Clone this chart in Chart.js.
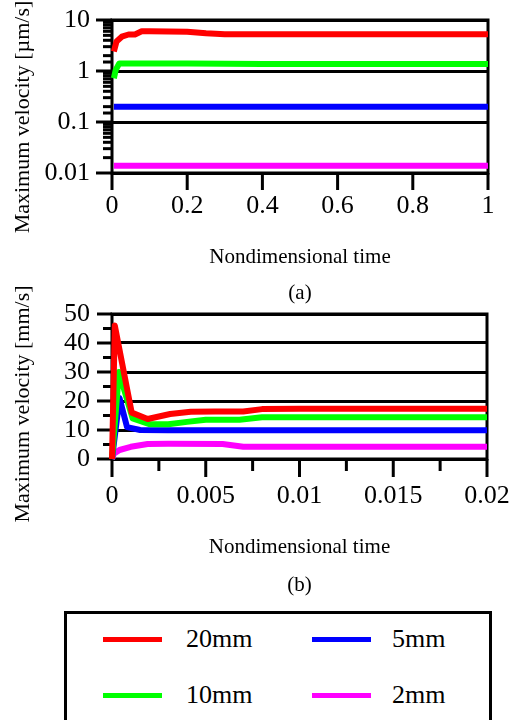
<!DOCTYPE html>
<html>
<head>
<meta charset="utf-8">
<script src="https://cdn.jsdelivr.net/npm/chart.js@4"></script>
<style>
  body { margin:0; background:#fff; width:518px; height:720px; overflow:hidden; position:relative; font-family:"Liberation Serif", serif; }
  canvas { position:absolute; left:0; }
  #c1 { top:0; }
  #c2 { top:280px; }
  #legendBox { position:absolute; left:64px; top:611px; width:422px; height:130px; border:3px solid #000; }
  .swatch { position:absolute; height:5px; width:59px; }
  .lbl { position:absolute; font-size:26px; line-height:30px; color:#000; white-space:nowrap; }
</style>
</head>
<body>
<canvas id="c1" width="518" height="315"></canvas>
<canvas id="c2" width="518" height="330"></canvas>
<div id="legendBox"></div>
<script>
// ---- series ----
const seriesNames  = ["20mm", "10mm", "5mm", "2mm"];
const seriesColors = ["#ff0000", "#00ff00", "#0000ff", "#ff00ff"];

// (a) velocities in um/s vs nondimensional time
const tRedA   = [0.005, 0.012, 0.026, 0.044, 0.061, 0.079, 0.1, 0.2, 0.25, 0.3, 0.4, 0.5, 0.6, 0.7, 0.8, 0.9, 1];
const redA    = [2.4, 3.8, 4.7, 5.2, 5.2, 6.0, 6.0, 5.9, 5.5, 5.25, 5.25, 5.25, 5.25, 5.25, 5.25, 5.25, 5.25];
const tGreenA = [0.005, 0.01, 0.019, 0.1, 0.2, 0.3, 0.4, 0.5, 0.6, 0.7, 0.8, 0.9, 1];
const greenA  = [0.72, 1.05, 1.4, 1.4, 1.4, 1.38, 1.37, 1.37, 1.37, 1.37, 1.37, 1.37, 1.37];
const tFlatA  = [0.005, 0.1, 0.2, 0.3, 0.4, 0.5, 0.6, 0.7, 0.8, 0.9, 1];
const blueA   = [0.2, 0.2, 0.2, 0.2, 0.2, 0.2, 0.2, 0.2, 0.2, 0.2, 0.2];
const magentaA = [0.0138, 0.0138, 0.0138, 0.0138, 0.0138, 0.0138, 0.0138, 0.0138, 0.0138, 0.0138, 0.0138];

// (b) velocities in mm/s, early times
const tRedB   = [0, 0.00015, 0.00105, 0.0019, 0.0031, 0.0042, 0.0055, 0.007, 0.008, 0.01, 0.015, 0.02];
const redB    = [0, 46, 16, 13.8, 15.5, 16.3, 16.4, 16.4, 17.2, 17.3, 17.3, 17.3];
const tGreenB = [0, 0.00037, 0.0011, 0.002, 0.003, 0.004, 0.005, 0.0068, 0.008, 0.01, 0.015, 0.02];
const greenB  = [0, 30, 14, 12, 12, 12.8, 13.5, 13.5, 14.4, 14.4, 14.4, 14.4];
const tBlueB  = [0, 0.0004, 0.0008, 0.0015, 0.003, 0.005, 0.01, 0.015, 0.02];
const blueB   = [0, 21, 11, 10, 9.9, 9.9, 9.9, 9.9, 9.9];
const tMagB   = [0, 0.0001, 0.0004, 0.001, 0.0019, 0.003, 0.0059, 0.007, 0.01, 0.015, 0.02];
const magB    = [0, 1.8, 3.1, 4.2, 5.2, 5.3, 5.2, 4.2, 4.2, 4.2, 4.2];

// ---- axes ----
const xTicksA = [0, 0.2, 0.4, 0.6, 0.8, 1];
const yTicksA = [0.01, 0.1, 1, 10];
const xStepB = 0.0025, xLabelStepB = 0.005;
const yStepB = 5, yLabelStepB = 10;

const xTitle = "Nondimensional time";
const yTitleA = "Maximum velocity [\u00b5m/s]";
const yTitleB = "Maximum velocity [mm/s]";

const FONT = '"Liberation Serif", "Times New Roman", serif';

function pts(xs, ys){ return xs.map((x,i)=>({x:x, y:ys[i]})); }
function onStep(v, step){ const r = v/step; return Math.abs(r - Math.round(r)) < 1e-6; }
function isDecade(v){ const l = Math.log10(v); return Math.abs(l - Math.round(l)) < 1e-6; }

function makeSet(data, idx){
  return { label: seriesNames[idx], data: data, borderColor: seriesColors[idx], borderWidth: 6,
           pointRadius: 0, fill: false, tension: 0, clip: false, borderJoinStyle: 'round' };
}

// invisible tick marks only push the labels away from the axis;
// the visible ones are drawn by the frame plugin with two lengths
function offsetGrid(len, extra){
  return Object.assign({ drawTicks: true, tickLength: len, tickColor: 'rgba(0,0,0,0)' }, extra);
}

// frame, custom tick marks and rotated y title
function makeFrame(cfg){
  return {
    id: 'frame',
    beforeDatasetsDraw(chart){
      const ctx = chart.ctx, a = chart.chartArea;
      const xs = chart.scales.x, ys = chart.scales.y;
      ctx.save();
      ctx.strokeStyle = '#000';
      ctx.lineWidth = 3;
      ctx.strokeRect(a.left, a.top, a.right - a.left, a.bottom - a.top);
      xs.ticks.forEach(t=>{
        const px = xs.getPixelForValue(t.value);
        const len = cfg.xMajor(t.value) ? cfg.xLen[0] : cfg.xLen[1];
        ctx.beginPath(); ctx.moveTo(px, a.bottom); ctx.lineTo(px, a.bottom + len); ctx.stroke();
      });
      ys.ticks.forEach(t=>{
        const py = ys.getPixelForValue(t.value);
        const len = cfg.yMajor(t.value) ? cfg.yLen[0] : cfg.yLen[1];
        ctx.beginPath(); ctx.moveTo(a.left - len, py); ctx.lineTo(a.left, py); ctx.stroke();
      });
      ctx.restore();
    },
    afterDraw(chart){
      const ctx = chart.ctx;
      ctx.save();
      ctx.translate(cfg.titleX, cfg.titleY);
      ctx.rotate(-Math.PI/2);
      ctx.font = '22px ' + FONT;
      ctx.fillStyle = '#000';
      ctx.textAlign = 'center';
      ctx.textBaseline = 'middle';
      ctx.fillText(cfg.title, 0, 0);
      ctx.restore();
    }
  };
}

Chart.defaults.font.family = FONT;
Chart.defaults.color = '#000';
const tickFont = { family: FONT, size: 26, lineHeight: 1 };

// ---- chart (a) ----
new Chart(document.getElementById('c1'), {
  type: 'line',
  data: { datasets: [
    makeSet(pts(tRedA, redA), 0),
    makeSet(pts(tGreenA, greenA), 1),
    makeSet(pts(tFlatA, blueA), 2),
    makeSet(pts(tFlatA, magentaA), 3)
  ]},
  options: {
    responsive: false, animation: false,
    layout: { padding: { top: 20, right: 30, left: 0, bottom: 0 } },
    plugins: { legend: { display: false }, tooltip: { enabled: false } },
    scales: {
      x: {
        type: 'linear', min: xTicksA[0], max: xTicksA[xTicksA.length-1],
        afterBuildTicks: s => { s.ticks = xTicksA.map(v=>({value:v})); },
        grid: offsetGrid(20, { drawOnChartArea: false }), border: { display: false },
        ticks: { autoSkip: false, maxRotation: 0, minRotation: 0, padding: 0,
                 font: tickFont, callback: v => String(v) },
        title: { display: true, text: [xTitle, "(a)"], font: { family: FONT, size: 21, lineHeight: 1.74 },
                 padding: { top: 0, bottom: 3 } },
        afterFit: s => { s.height = 142; }
      },
      y: {
        type: 'logarithmic', min: yTicksA[0], max: yTicksA[yTicksA.length-1],
        grid: offsetGrid(22, { lineWidth: 3,
                color: c => (c.tick && isDecade(c.tick.value)) ? '#000' : 'rgba(0,0,0,0)' }),
        border: { display: false },
        ticks: { autoSkip: false, padding: 0, font: tickFont,
                 callback: v => yTicksA.some(t => Math.abs(t - v) < 1e-9) ? String(v) : '' },
        afterFit: s => { s.width = 112; }
      }
    }
  },
  plugins: [makeFrame({
    xMajor: v => true, yMajor: isDecade, xLen: [17, 17], yLen: [16, 9],
    title: yTitleA, titleX: 23, titleY: 117
  })]
});

// ---- chart (b) ----
new Chart(document.getElementById('c2'), {
  type: 'line',
  data: { datasets: [
    makeSet(pts(tRedB, redB), 0),
    makeSet(pts(tGreenB, greenB), 1),
    makeSet(pts(tBlueB, blueB), 2),
    makeSet(pts(tMagB, magB), 3)
  ]},
  options: {
    responsive: false, animation: false,
    layout: { padding: { top: 34, right: 31, left: 0, bottom: 0 } },
    plugins: { legend: { display: false }, tooltip: { enabled: false } },
    scales: {
      x: {
        type: 'linear', min: 0, max: 0.02,
        grid: offsetGrid(24, { drawOnChartArea: false }), border: { display: false },
        ticks: { stepSize: xStepB, autoSkip: false, maxRotation: 0, minRotation: 0, padding: 0,
                 font: tickFont,
                 callback: v => onStep(v, xLabelStepB) ? String(+v.toFixed(4)) : '' },
        title: { display: true, text: [xTitle, "(b)"], font: { family: FONT, size: 21, lineHeight: 1.83 },
                 padding: { top: 0, bottom: 5 } },
        afterFit: s => { s.height = 151; }
      },
      y: {
        type: 'linear', min: 0, max: 50,
        grid: offsetGrid(22, { lineWidth: 3,
                color: c => (c.tick && onStep(c.tick.value, yLabelStepB)) ? '#000' : 'rgba(0,0,0,0)' }),
        border: { display: false },
        ticks: { stepSize: yStepB, autoSkip: false, padding: 0, font: tickFont,
                 callback: v => onStep(v, yLabelStepB) ? String(v) : '' },
        afterFit: s => { s.width = 112; }
      }
    }
  },
  plugins: [makeFrame({
    xMajor: v => onStep(v, xLabelStepB), yMajor: v => onStep(v, yLabelStepB),
    xLen: [18, 12], yLen: [15, 9],
    title: yTitleB, titleX: 23, titleY: 124
  })]
});

// ---- legend (two columns, filled top to bottom) ----
const legendCols = [{ line: 103, text: 186 }, { line: 312, text: 392 }];
const legendRows = [639, 695];
seriesNames.forEach((name, i)=>{
  const col = legendCols[Math.floor(i/2)], row = legendRows[i%2];
  const sw = document.createElement('div');
  sw.className = 'swatch';
  sw.style.left = col.line + 'px';
  sw.style.top = (row - 2.5) + 'px';
  sw.style.background = seriesColors[i];
  document.body.appendChild(sw);
  const lb = document.createElement('div');
  lb.className = 'lbl';
  lb.style.left = col.text + 'px';
  lb.style.top = (row - 15) + 'px';
  lb.textContent = name;
  document.body.appendChild(lb);
});
</script>
</body>
</html>
